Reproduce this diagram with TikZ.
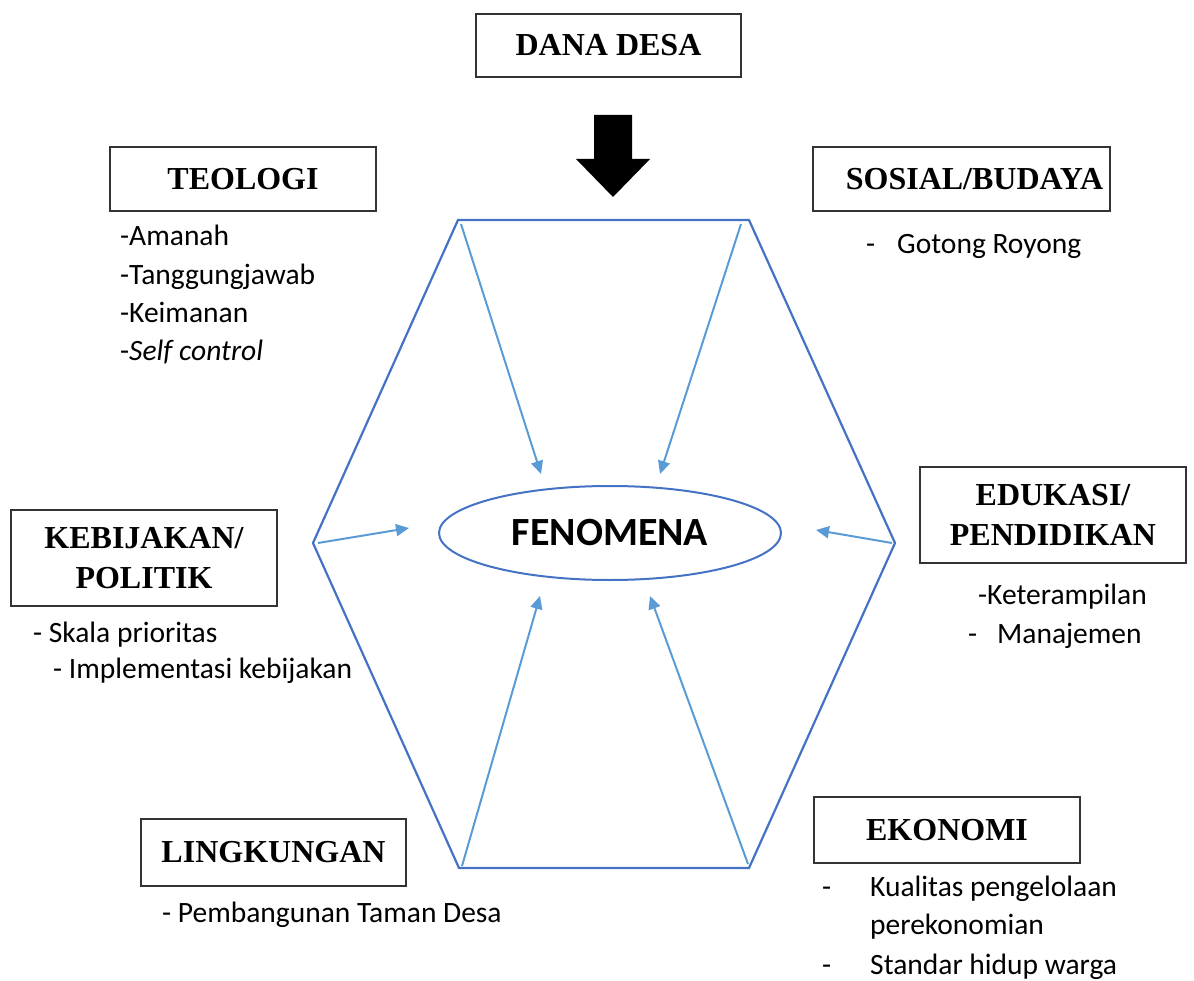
\documentclass[tikz,border=0pt]{standalone}
\usepackage{fontspec}
\setmainfont{Liberation Serif}
\newfontfamily\bodyfont{Carlito}
\usetikzlibrary{arrows.meta,shapes.geometric}
\definecolor{hexblue}{RGB}{68,114,196}
\definecolor{arrowblue}{RGB}{91,155,213}
\begin{document}
\begin{tikzpicture}[x=1pt,y=-1pt,
  topic/.style={draw=black!80, line width=1.2pt, align=center, inner sep=0pt,
    font=\fontsize{32}{40}\selectfont\bfseries},
  item/.style={anchor=base west, inner sep=0pt, font=\bodyfont\fontsize{29.5}{34}\selectfont},
  feed/.style={arrowblue, line width=2pt, -{Triangle[length=13pt,width=12pt]}}]
\useasboundingbox (0,0) rectangle (1194,981);

% heading boxes
\node[topic, minimum width=265pt, minimum height=63pt] (dana) at (608.5,45.5) {DANA DESA};
\node[topic, minimum width=266pt, minimum height=64pt] (teologi) at (243,179) {TEOLOGI};
\node[topic, minimum width=297pt, minimum height=64pt, text width=297pt] (sosial) at (961.5,179) {\hspace*{26pt}SOSIAL/BUDAYA};
\node[topic, minimum width=266pt, minimum height=96pt] (kebijakan) at (144,558) {KEBIJAKAN/\\POLITIK};
\node[topic, minimum width=266pt, minimum height=96pt] (edukasi) at (1053,515) {EDUKASI/\\PENDIDIKAN};
\node[topic, minimum width=265pt, minimum height=67pt] (lingkungan) at (273.5,852.5) {LINGKUNGAN};
\node[topic, minimum width=266pt, minimum height=66pt] (ekonomi) at (947,830) {EKONOMI};

% heavy arrow from the fund down to the hexagon
\fill[black] (594,115) -- (632,115) -- (632,159) -- (650,159) -- (613,197)
  -- (576,159) -- (594,159) -- cycle;

% hexagon
\coordinate (hTL) at (458,220);
\coordinate (hTR) at (749,220);
\coordinate (hR) at (895,543);
\coordinate (hBR) at (749,868);
\coordinate (hBL) at (459,868);
\coordinate (hL) at (313,543);
\draw[hexblue, line width=2.2pt, line join=miter]
  (hTL) -- (hTR) -- (hR) -- (hBR) -- (hBL) -- (hL) -- cycle;

% centre ellipse
\node[draw=hexblue, line width=2pt, ellipse, minimum width=342pt, minimum height=94pt,
  inner sep=0pt, font=\bodyfont\bfseries\fontsize{40}{44}\selectfont] (fen) at (610,533) {FENOMENA};

% arrows towards the phenomenon
\coordinate (aTLs) at (461,224);  \coordinate (aTLe) at (541,474);
\coordinate (aTRs) at (741,224);  \coordinate (aTRe) at (660,474);
\coordinate (aLs)  at (318,543);  \coordinate (aLe)  at (409,528);
\coordinate (aRs)  at (892,543);  \coordinate (aRe)  at (816,530);
\coordinate (aBLs) at (462,866);  \coordinate (aBLe) at (540,596);
\coordinate (aBRs) at (748,864);  \coordinate (aBRe) at (650,596);
\draw[feed] (aTLs) -- (aTLe);
\draw[feed] (aTRs) -- (aTRe);
\draw[feed] (aLs) -- (aLe);
\draw[feed] (aRs) -- (aRe);
\draw[feed] (aBLs) -- (aBLe);
\draw[feed] (aBRs) -- (aBRe);

% item lists
\node[item] (t1) at (120,246) {-Amanah};
\node[item] (t2) at (120,285) {-Tanggungjawab};
\node[item] (t3) at (120,323) {-Keimanan};
\node[item] (t4) at (120,361) {-\textit{Self control}};

\node[item] (s0) at (866,254) {-};
\node[item] (s1) at (897,254) {Gotong Royong};

\node[item] (k1) at (33,642) {- Skala prioritas};
\node[item] (k2) at (53,678) {- Implementasi kebijakan};

\node[item] (e1) at (978,604) {-Keterampilan};
\node[item] (e0) at (968,643) {-};
\node[item] (e2) at (997,643) {Manajemen};

\node[item] (l1) at (162,922) {- Pembangunan Taman Desa};

\node[item] (o0) at (822,896) {-};
\node[item] (o1) at (870,896) {Kualitas pengelolaan};
\node[item] (o2) at (870,934) {perekonomian};
\node[item] (o3) at (822,974) {-};
\node[item] (o4) at (870,974) {Standar hidup warga};
\end{tikzpicture}
\end{document}
